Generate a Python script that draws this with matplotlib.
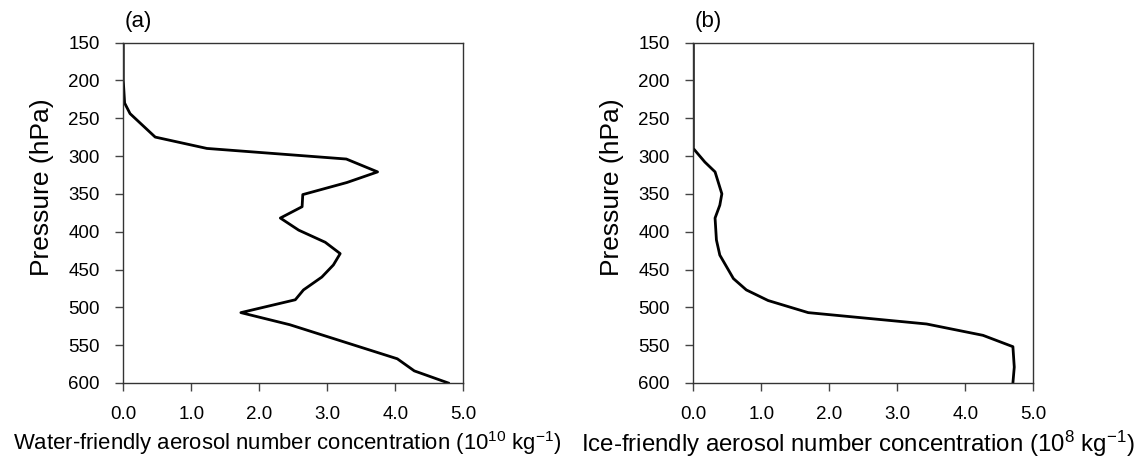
import matplotlib
matplotlib.use("Agg")
import matplotlib.pyplot as plt

plt.rcParams["font.family"] = ["Liberation Sans", "DejaVu Sans"]
plt.rcParams["mathtext.fontset"] = "custom"
plt.rcParams["mathtext.rm"] = "Liberation Sans"
plt.rcParams["mathtext.default"] = "regular"

# panel (a): water-friendly aerosol (1e10 kg-1) vs pressure (hPa)
water_conc = [0.0, 0.0, 0.02, 0.1, 0.47, 1.23, 3.28, 3.74, 3.29, 2.64, 2.63,
              2.31, 2.58, 2.97, 3.19, 3.09, 2.92, 2.65, 2.53, 1.73, 2.45,
              4.03, 4.28, 4.78]
water_pres = [150, 200, 230, 244, 275, 290, 304, 321, 335, 351, 367,
              382, 398, 414, 429, 444, 460, 477, 490, 507, 523,
              568, 584, 600]

# panel (b): ice-friendly aerosol (1e8 kg-1) vs pressure (hPa)
ice_conc = [0.0, 0.0, 0.17, 0.32, 0.42, 0.39, 0.32, 0.34, 0.39, 0.59, 0.78,
            1.10, 1.69, 3.43, 4.26, 4.70, 4.72, 4.70]
ice_pres = [150, 290, 308, 321, 350, 365, 382, 411, 431, 462, 477,
            491, 507, 522, 537, 552, 579, 600]

panels = [
    ("(a)", water_conc, water_pres,
     r"Water-friendly aerosol number concentration (10$^{10}$ kg$^{-1}$)", 15.9),
    ("(b)", ice_conc, ice_pres,
     r"Ice-friendly aerosol number concentration (10$^{8}$ kg$^{-1}$)", 17.3),
]

fig = plt.figure(figsize=(11.36, 4.62), dpi=100)
lefts = [0.1085, 0.6103]

for left, (tag, conc, pres, xlabel, xfs) in zip(lefts, panels):
    ax = fig.add_axes([left, 0.171, 0.2993, 0.737])
    ax.plot(conc, pres, color="black", lw=2.0)
    ax.set_xlim(0, 5)
    ax.set_ylim(600, 150)
    ax.set_xticks([0, 1, 2, 3, 4, 5])
    ax.set_xticklabels(["0.0", "1.0", "2.0", "3.0", "4.0", "5.0"])
    ax.set_yticks(range(150, 601, 50))
    ax.tick_params(direction="out", length=5.8, width=1, colors="#444444",
                   labelcolor="black", labelsize=13.5, pad=11)
    for s in ax.spines.values():
        s.set_color("#333333")
        s.set_linewidth(1)
    ax.set_ylabel("Pressure (hPa)", fontsize=19)
    ax.yaxis.set_label_coords(-0.205, 0.576)
    ax.set_xlabel(xlabel, fontsize=xfs)
    ax.xaxis.set_label_coords(0.484, -0.135)
    ax.text(0.005, 1.03, tag, transform=ax.transAxes, fontsize=16,
            ha="left", va="bottom")

fig.savefig("out.png", dpi=100)
